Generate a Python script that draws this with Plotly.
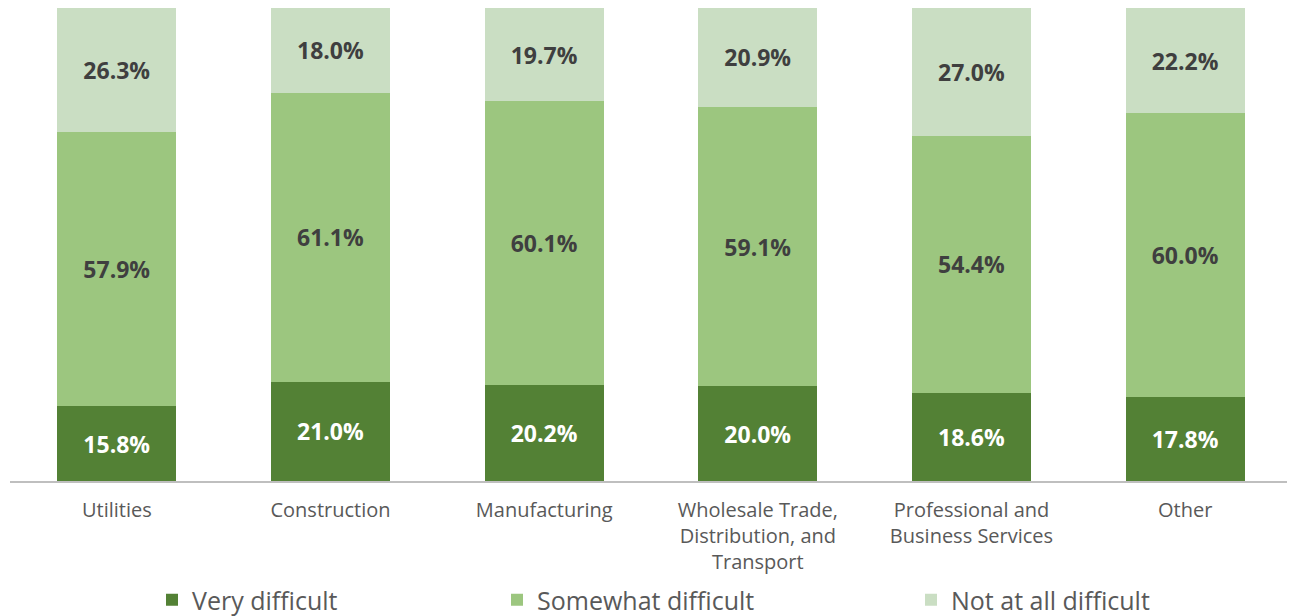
import plotly.graph_objects as go

categories = ["Utilities", "Construction", "Manufacturing",
              "Wholesale Trade,<br>Distribution, and<br>Transport",
              "Professional and<br>Business Services", "Other"]
very_difficult = [15.8, 21.0, 20.2, 20.0, 18.6, 17.8]
somewhat_difficult = [57.9, 61.1, 60.1, 59.1, 54.4, 60.0]
not_at_all_difficult = [26.3, 18.0, 19.7, 20.9, 27.0, 22.2]

series = [
    ("Very difficult", very_difficult, "#538135", "#FFFFFF", "legend"),
    ("Somewhat difficult", somewhat_difficult, "#9CC67F", "#3F3F3F", "legend2"),
    ("Not at all difficult", not_at_all_difficult, "#CADEC3", "#3F3F3F", "legend3"),
]

# page has 8px body margin; figure is placed at (8, 8)
OFF = 8
W, H = 1295 - OFF, 616 - OFF
ml, mt = 10 - OFF, 8 - OFF
plot_right, plot_bottom = 1292 - OFF, 481 - OFF
mr = W - plot_right
mb = H - plot_bottom
pw = W - ml - mr
ph = H - mt - mb

fig = go.Figure()
for name, vals, color, tcolor, leg in series:
    fig.add_trace(go.Bar(
        x=categories, y=vals, name=name, legend=leg,
        marker=dict(color=color, line=dict(width=0)),
        text=[f"{v:.1f}%" for v in vals],
        textposition="inside", insidetextanchor="middle", textangle=0,
        textfont=dict(family="Open Sans", size=23, color=tcolor, weight="bold"),
        hoverinfo="skip",
    ))

def px2x(px):
    return (px - OFF - ml) / pw

def py2y(py):
    return (plot_bottom - (py - OFF)) / ph

legend_common = dict(orientation="h", yanchor="middle", xanchor="left",
                     font=dict(family="Open Sans", size=25, color="#595959"),
                     bgcolor="rgba(0,0,0,0)", borderwidth=0)

fig.update_layout(
    width=W, height=H,
    margin=dict(l=ml, r=mr, t=mt, b=mb, pad=0, autoexpand=False),
    barmode="stack", bargap=0.443,
    plot_bgcolor="white", paper_bgcolor="white",
    showlegend=True,
    uniformtext=dict(minsize=8, mode="show"),
    legend=dict(x=px2x(152), y=py2y(600), **legend_common),
    legend2=dict(x=px2x(497), y=py2y(600), **legend_common),
    legend3=dict(x=px2x(911), y=py2y(600), **legend_common),
    xaxis=dict(showline=True, linecolor="#BFBFBF", linewidth=2,
               tickfont=dict(family="Open Sans", size=20, color="#595959"),
               ticks="outside", ticklen=10, tickcolor="rgba(0,0,0,0)",
               showgrid=False, automargin=False),
    yaxis=dict(range=[0, 100], visible=False, showgrid=False),
)

fig.write_html("out.html")
